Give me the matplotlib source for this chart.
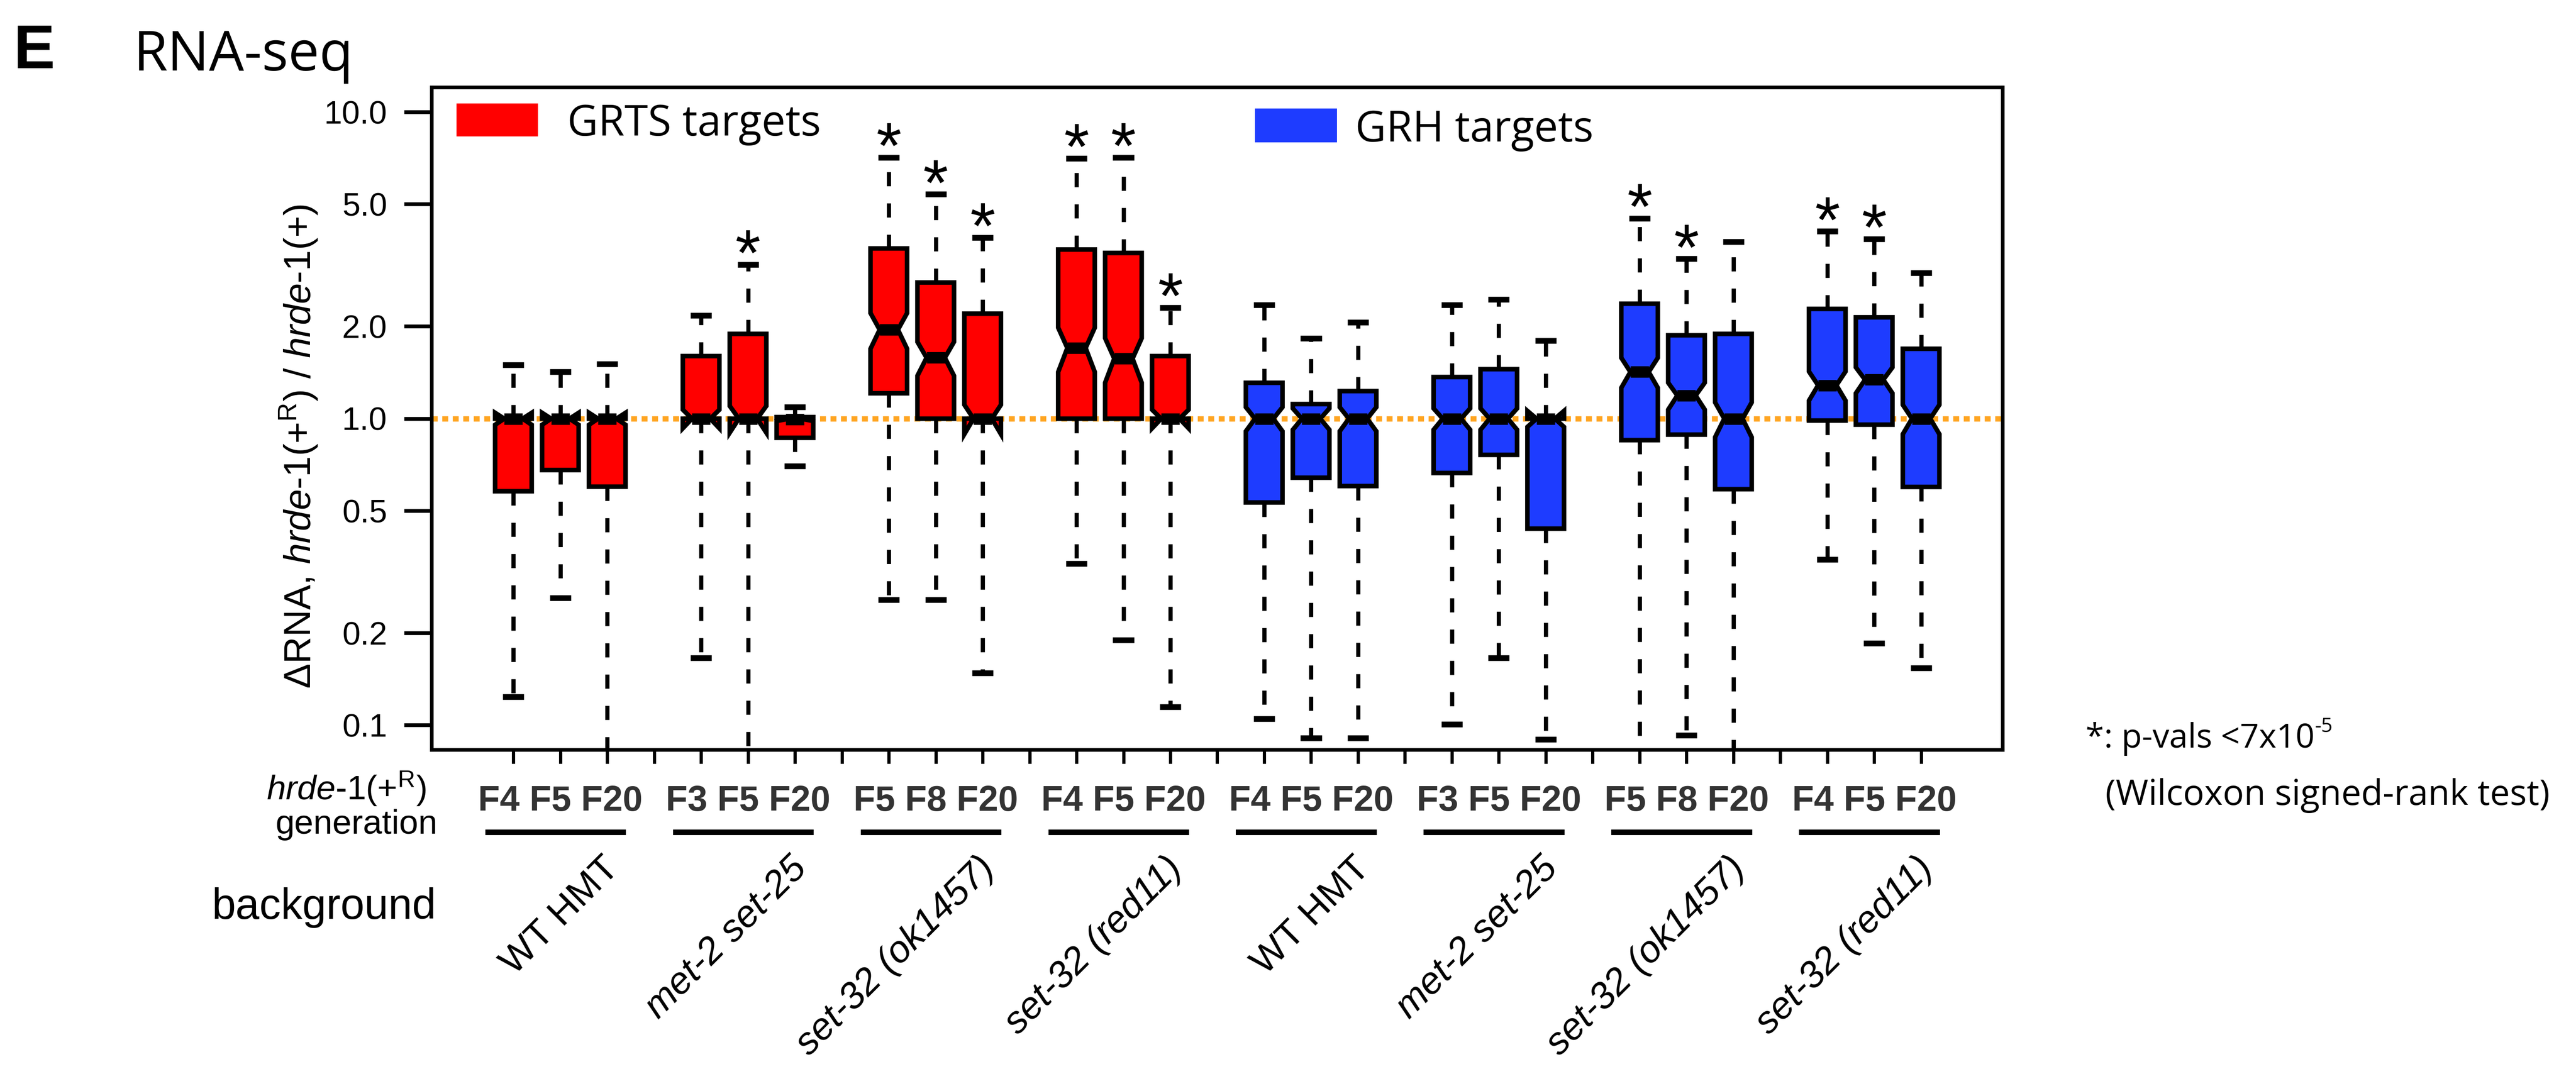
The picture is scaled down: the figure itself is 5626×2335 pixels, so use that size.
import numpy as np
import matplotlib.pyplot as plt
from matplotlib import font_manager
from matplotlib.patches import Rectangle
from matplotlib.ticker import NullLocator
from matplotlib.transforms import blended_transform_factory

W, H, DPI = 5626, 2335, 300

# one entry per box, left to right, GRTS targets then GRH targets
generations = ['F4 F5 F20', 'F3 F5 F20', 'F5 F8 F20', 'F4 F5 F20']
backgrounds = ['WT HMT', 'met-2 set-25', 'set-32 (ok1457)', 'set-32 (red11)']

grts_whislo = [0.124, 0.26, 0.05, 0.166, 0.05, 0.70, 0.257, 0.257, 0.148, 0.337, 0.19, 0.115]
grts_q1 = [0.58, 0.68, 0.60, 1.0, 1.0, 0.866, 1.21, 1.0, 1.0, 1.0, 1.0, 1.0]
grts_med = [1.0, 1.0, 1.0, 1.0, 1.0, 0.995, 1.95, 1.58, 1.0, 1.70, 1.57, 1.0]
grts_q3 = [1.0, 1.0, 1.0, 1.6, 1.89, 1.012, 3.59, 2.78, 2.2, 3.56, 3.47, 1.60]
grts_whishi = [1.5, 1.42, 1.51, 2.17, 3.18, 1.09, 7.1, 5.39, 3.9, 7.06, 7.1, 2.3]
grts_notch = [0.045, 0.045, 0.045, 0.07, 0.10, 0.012, 0.26, 0.20, 0.11, 0.28, 0.26, 0.07]
grts_sig = [False, False, False, False, True, False, True, True, True, True, True, True]

grh_whislo = [0.105, 0.091, 0.091, 0.101, 0.166, 0.09, 0.05, 0.093, 0.05, 0.347, 0.185, 0.154]
grh_q1 = [0.533, 0.642, 0.603, 0.665, 0.762, 0.438, 0.851, 0.887, 0.589, 0.986, 0.956, 0.599]
grh_med = [1.0, 1.0, 1.0, 1.0, 1.0, 1.0, 1.42, 1.19, 1.0, 1.285, 1.34, 1.0]
grh_q3 = [1.309, 1.116, 1.23, 1.367, 1.45, 1.0, 2.37, 1.87, 1.89, 2.28, 2.14, 1.69]
grh_whishi = [2.35, 1.825, 2.06, 2.35, 2.446, 1.795, 4.5, 3.32, 3.78, 4.08, 3.85, 2.99]
grh_notch = [0.09, 0.08, 0.09, 0.08, 0.08, 0.06, 0.16, 0.12, 0.13, 0.14, 0.13, 0.11]
grh_sig = [False, False, False, False, False, False, True, True, False, True, True, False]

ytick_vals = [0.1, 0.2, 0.5, 1.0, 2.0, 5.0, 10.0]
ytick_labels = ['0.1', '0.2', '0.5', '1.0', '2.0', '5.0', '10.0']

RED = '#FF0000'
BLUE = '#1E3CFF'
ORANGE = '#FFA522'

plt.rcParams['font.family'] = 'Liberation Sans'
plt.rcParams['mathtext.fontset'] = 'custom'
plt.rcParams['mathtext.rm'] = 'Liberation Sans'
plt.rcParams['mathtext.it'] = 'Liberation Sans:italic'
plt.rcParams['mathtext.bf'] = 'Liberation Sans:bold'
plt.rcParams['lines.scale_dashes'] = False

installed = {f.name for f in font_manager.fontManager.ttflist}
narrow = 'Liberation Sans Narrow' if 'Liberation Sans Narrow' in installed else 'Liberation Sans'


def fx(px):
    return px / W


def fy(py):
    return 1 - py / H


fig = plt.figure(figsize=(W / DPI, H / DPI), dpi=DPI)
ax = fig.add_axes([fx(943), fy(1638), 3431 / W, 1447 / H])
ax.set_yscale('log')

# 8 groups of 3 boxes with an empty slot between groups
positions = np.array([g * 4 + k + 1 for g in range(8) for k in range(3)])


def make_stats(lo, q1, med, q3, hi, notch):
    return [dict(whislo=a, q1=b, med=m, q3=c, whishi=d, cilo=m - n, cihi=m + n, fliers=[])
            for a, b, m, c, d, n in zip(lo, q1, med, q3, hi, notch)]


common = dict(widths=0.78, shownotches=True, patch_artist=True, showfliers=False,
              capwidths=0.45,
              medianprops=dict(color='black', linewidth=6.0, solid_capstyle='butt'),
              whiskerprops=dict(color='black', linewidth=2.2, linestyle=(0, (7.4, 9.0)),
                                zorder=1.5),
              capprops=dict(color='black', linewidth=3.0, solid_capstyle='butt'))

ax.bxp(make_stats(grts_whislo, grts_q1, grts_med, grts_q3, grts_whishi, grts_notch),
       positions=positions[:12],
       boxprops=dict(facecolor=RED, edgecolor='black', linewidth=2.4), **common)
ax.bxp(make_stats(grh_whislo, grh_q1, grh_med, grh_q3, grh_whishi, grh_notch),
       positions=positions[12:],
       boxprops=dict(facecolor=BLUE, edgecolor='black', linewidth=2.4), **common)

ax.axhline(1.0, color=ORANGE, linewidth=2.8, linestyle=(0, (3.1, 2.4)), zorder=1)

# significance stars above the upper whiskers
for pos, hi, sig in zip(positions, grts_whishi + grh_whishi, grts_sig + grh_sig):
    if sig:
        ax.annotate('*', xy=(pos, hi), xytext=(0, -5.5), textcoords='offset points',
                    ha='center', va='baseline', fontsize=34, annotation_clip=False)

ax.set_xlim(-0.74, 32.74)
ax.set_ylim(10 ** -1.08, 10 ** 1.08)
ax.set_yticks(ytick_vals)
ax.set_yticklabels(ytick_labels)
ax.yaxis.set_minor_locator(NullLocator())

# a tick at every slot, one generation string per group under its middle box
slots = np.arange(1, 32)
slot_labels = [''] * len(slots)
for g in range(8):
    slot_labels[positions[g * 3 + 1] - 1] = generations[g % 4]
ax.set_xticks(slots)
ax.set_xticklabels(slot_labels)
ax.xaxis.set_minor_locator(NullLocator())

ax.tick_params(axis='y', length=14.4, width=2.0, pad=9, labelsize=17)
ax.tick_params(axis='x', length=7.3, width=1.7, pad=11, labelsize=18.7, labelcolor='#333333')
for lbl in ax.get_xticklabels():
    lbl.set_fontfamily(narrow)
    lbl.set_fontweight('bold')
for sp in ax.spines.values():
    sp.set_linewidth(1.9)

# group underlines and rotated background names
bt = blended_transform_factory(ax.transData, fig.transFigure)
for g in range(8):
    first, last = positions[g * 3], positions[g * 3 + 2]
    ax.plot([first - 0.6, last + 0.4], [fy(1818), fy(1818)], transform=bt,
            color='black', linewidth=2.9, solid_capstyle='butt', clip_on=False)
    name = backgrounds[g % 4]
    ax.text(last + 0.4, fy(1858), name, transform=bt, rotation=45, ha='right', va='top',
            fontsize=19.8, style='normal' if name == 'WT HMT' else 'italic')

# legend swatches
fig.add_artist(Rectangle((fx(997), fy(298)), 178 / W, 72 / H, transform=fig.transFigure,
                         facecolor=RED, edgecolor='none'))
fig.text(fx(1239), fy(296), 'GRTS targets', family='Open Sans', fontsize=22.3, va='baseline')
fig.add_artist(Rectangle((fx(2741), fy(311)), 179 / W, 74 / H, transform=fig.transFigure,
                         facecolor=BLUE, edgecolor='none'))
fig.text(fx(2960), fy(309), 'GRH targets', family='Open Sans', fontsize=22.3, va='baseline')

# titles and axis labels
fig.text(fx(30), fy(149), 'E', fontsize=32.5, fontweight='bold', va='baseline')
fig.text(fx(291), fy(154), 'RNA-seq', family='Open Sans', fontsize=29, va='baseline')
fig.text(fx(652), fy(975),
         r'ΔRNA, $\mathit{hrde}$-$\mathit{1}$($+^{\mathrm{R}}$) / $\mathit{hrde}$-$\mathit{1}$(+)',
         rotation=90, ha='center', va='center', fontsize=19.6)
fig.text(fx(930), fy(1747), r'$\mathit{hrde}$-$\mathit{1}$($+^{\mathrm{R}}$)',
         ha='right', va='baseline', fontsize=18)
fig.text(fx(956), fy(1821), 'generation', ha='right', va='baseline', fontsize=18)
fig.text(fx(953), fy(2007), 'background', ha='right', va='baseline', fontsize=22.5)

# footnote on the right
note = fig.text(fx(4555), fy(1633), '*: p-vals <7x10', family='Open Sans', fontsize=17.5,
                va='baseline')
ax.annotate('-5', xy=(1.0, 0.55), xycoords=note, ha='left', va='bottom',
            family='Open Sans', fontsize=10.5, annotation_clip=False)
fig.text(fx(4598), fy(1758), '(Wilcoxon signed-rank test)', family='Open Sans',
         fontsize=18.5, va='baseline')

fig.savefig('out.png', dpi=DPI)
